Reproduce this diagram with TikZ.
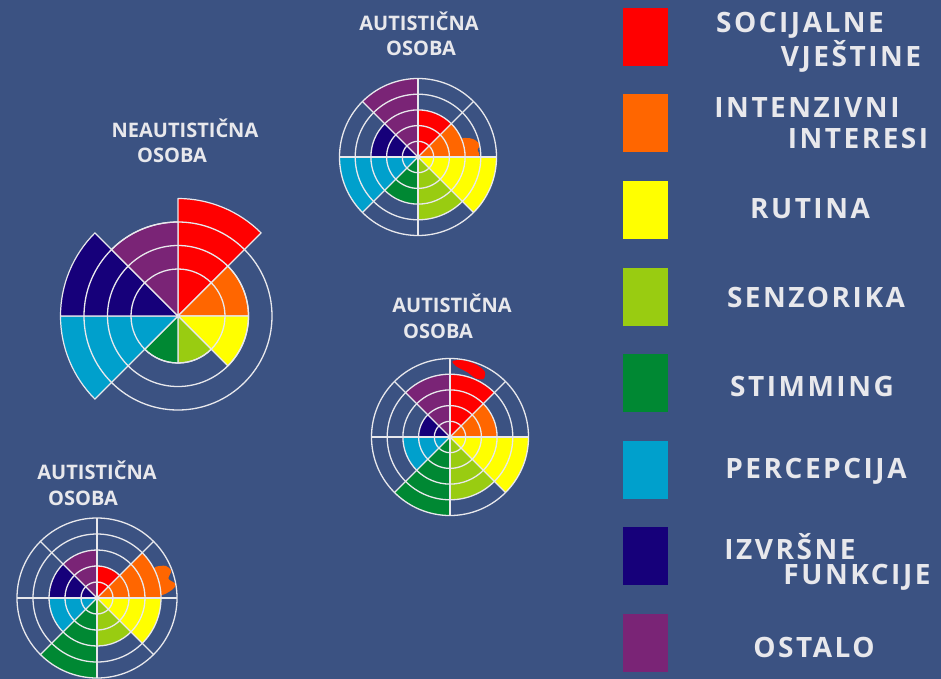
\documentclass[tikz,border=0pt]{standalone}
\usepackage{fontspec}
\setmainfont{Open Sans}
\newfontfamily\legfont{Open Sans}[LetterSpace=9]
\newfontfamily\capfont{Open Sans}
\usetikzlibrary{math}
\definecolor{bgblue}{RGB}{59,82,130}
\definecolor{socred}{RGB}{255,0,0}
\definecolor{intorange}{RGB}{255,102,0}
\definecolor{rutyellow}{RGB}{255,255,0}
\definecolor{senzgreen}{RGB}{153,204,17}
\definecolor{stimgreen}{RGB}{0,136,51}
\definecolor{percyan}{RGB}{0,160,204}
\definecolor{izvnavy}{RGB}{22,0,122}
\definecolor{ostpurple}{RGB}{122,36,118}
\definecolor{chalk}{RGB}{232,232,236}
\tikzset{
  ring/.style={draw=chalk, line width=1.3pt},
  sector/.style={draw=chalk, line width=1.2pt, line join=round},
  wlabel/.style={text=chalk, inner sep=0pt, font=\capfont\bfseries\fontsize{20}{20}\selectfont},
  ltext/.style={text=chalk, inner sep=0pt, font=\legfont\bfseries\fontsize{28}{28}\selectfont},
  swatch/.style={minimum width=45pt, minimum height=58pt, inner sep=0pt, draw=none}
}

\begin{document}
\begin{tikzpicture}[x=1pt, y=1pt]
  \tikzmath{\ua = 23.5; \ub = 15.7; \uc = 16;}
  \fill[bgblue] (0,0) rectangle (941,-679);
  \useasboundingbox (0,0) rectangle (941,-679);

  \begin{scope}[shift={(178,-316)}]
    \foreach \col/\lv [count=\i from 0] in {socred/5,intorange/3,rutyellow/3,senzgreen/2,stimgreen/2,percyan/5,izvnavy/5,ostpurple/4}
      \path [sector, fill=\col] (0,0) -- ({90-45*\i}:\lv*\ua) arc[start angle={90-45*\i}, end angle={45-45*\i}, radius=\lv*\ua] -- cycle;
    \foreach \r in {2,3,4}
      \draw[ring] (0,0) circle (\r*\ua);
  \end{scope}

  \begin{scope}[shift={(418,-157)}]
    \foreach \col/\lv [count=\i from 0] in {socred/3,intorange/3,rutyellow/5,senzgreen/4,stimgreen/3,percyan/5,izvnavy/3,ostpurple/5}
      \path [fill=\col] (0,0) -- ({90-45*\i}:\lv*\ub) arc[start angle={90-45*\i}, end angle={45-45*\i}, radius=\lv*\ub] -- cycle;
    \fill[intorange] plot[smooth cycle] coordinates {(0:46) (1:61) (7:60) (11:63) (16:60) (20:55) (22:46)};
    \foreach \r in {1,...,5}
      \draw[ring] (0,0) circle (\r*\ub);
    \foreach \a in {0,45,90,135}
      \draw[ring] (\a:5*\ub) -- (\a+180:5*\ub);
  \end{scope}

  \begin{scope}[shift={(450,-437)}]
    \foreach \col/\lv [count=\i from 0] in {socred/4,intorange/3,rutyellow/5,senzgreen/4,stimgreen/5,percyan/3,izvnavy/2,ostpurple/4}
      \path [fill=\col] (0,0) -- ({90-45*\i}:\lv*\ub) arc[start angle={90-45*\i}, end angle={45-45*\i}, radius=\lv*\ub] -- cycle;
    \fill[socred] plot[smooth cycle] coordinates {(88:76) (80:78) (70:77) (62:74) (60:67) (66:64) (75:67) (85:71)};
    \foreach \r in {1,...,5}
      \draw[ring] (0,0) circle (\r*\ub);
    \foreach \a in {0,45,90,135}
      \draw[ring] (\a:5*\ub) -- (\a+180:5*\ub);
  \end{scope}

  \begin{scope}[shift={(97,-598)}]
    \foreach \col/\lv [count=\i from 0] in {socred/2,intorange/4,rutyellow/4,senzgreen/3,stimgreen/5,percyan/3,izvnavy/3,ostpurple/3}
      \path [fill=\col] (0,0) -- ({90-45*\i}:\lv*\uc) arc[start angle={90-45*\i}, end angle={45-45*\i}, radius=\lv*\uc] -- cycle;
    \fill[intorange] plot[smooth cycle] coordinates {(3:62) (6:75) (10:80) (15:74) (20:79) (25:76) (28:66) (24:62)};
    \foreach \r in {1,...,5}
      \draw[ring] (0,0) circle (\r*\uc);
    \foreach \a in {0,45,90,135}
      \draw[ring] (\a:5*\uc) -- (\a+180:5*\uc);
  \end{scope}

  \node[wlabel] (neaut) at (185,-128) {NEAUTISTI\v{C}NA};
  \node[wlabel] (neos) at (172,-155) {OSOBA};
  \node[wlabel] (aut1) at (419,-21) {AUTISTI\v{C}NA};
  \node[wlabel] (os1) at (421,-48) {OSOBA};
  \node[wlabel] (aut2) at (452,-303) {AUTISTI\v{C}NA};
  \node[wlabel] (os2) at (438,-331) {OSOBA};
  \node[wlabel] (aut3) at (97,-470) {AUTISTI\v{C}NA};
  \node[wlabel] (os3) at (83,-498) {OSOBA};

  \foreach \col [count=\i from 0] in {socred,intorange,rutyellow,senzgreen,stimgreen,percyan,izvnavy,ostpurple}
    \node[swatch, fill=\col] (sq\i) at (645.5,{-37-86.5*\i}) {};

  \node[ltext] (soc) at (800,-25) {SOCIJALNE};
  \node[ltext] (vje) at (851,-56) {VJEŠTINE};
  \node[ltext] (inten) at (807,-108) {INTENZIVNI};
  \node[ltext] (inter) at (858,-138) {INTERESI};
  \node[ltext] (rut) at (810,-209) {RUTINA};
  \node[ltext] (senz) at (816,-297) {SENZORIKA};
  \node[ltext] (stim) at (812,-386) {STIMMING};
  \node[ltext] (perc) at (816,-471) {PERCEPCIJA};
  \node[ltext] (izv) at (790,-547) {IZVRŠNE};
  \node[ltext] (funk) at (857,-577) {FUNKCIJE};
  \node[ltext] (ost) at (814,-647) {OSTALO};
\end{tikzpicture}
\end{document}
